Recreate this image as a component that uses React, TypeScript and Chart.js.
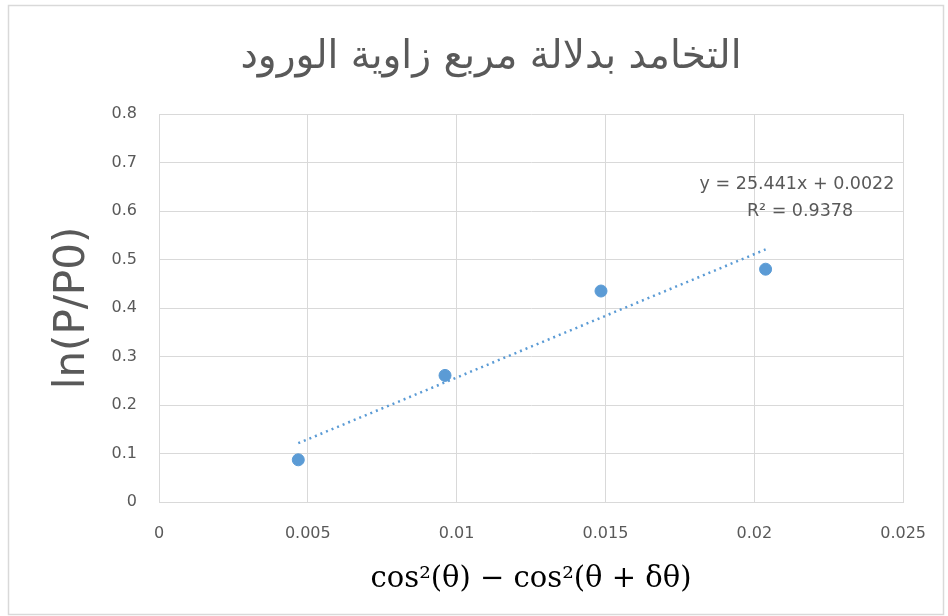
import React, { useEffect, useRef } from 'react';
import { Chart, registerables } from 'chart.js';

Chart.register(...registerables);

const chartTitle = 'التخامد بدلالة مربع زاوية الورود';
const xAxisTitle = 'cos²(θ) − cos²(θ + δθ)';
const yAxisTitle = 'ln(P/P0)';

const xValues = [0.00468, 0.00961, 0.01485, 0.02038];
const yValues = [0.087, 0.261, 0.435, 0.48];

const xTicks = [0, 0.005, 0.01, 0.015, 0.02, 0.025];
const xTickLabels = ['0', '0.005', '0.01', '0.015', '0.02', '0.025'];
const yTicks = [0, 0.1, 0.2, 0.3, 0.4, 0.5, 0.6, 0.7, 0.8];
const yTickLabels = ['0', '0.1', '0.2', '0.3', '0.4', '0.5', '0.6', '0.7', '0.8'];

const trendSlope = 25.441;
const trendIntercept = 0.0022;
const trendLabels = ['y = 25.441x + 0.0022', 'R² = 0.9378'];

const BLUE = '#5b9bd5';
const GRID = '#d9d9d9';
const TEXT = '#595959';

const decorPlugin = {
  id: 'decor',
  afterDraw(chart: any) {
    const ctx = chart.ctx;
    ctx.save();
    // outer chart border
    ctx.strokeStyle = GRID;
    ctx.lineWidth = 1.5;
    ctx.strokeRect(8.5, 5.5, 935, 609);
    // title
    ctx.fillStyle = TEXT;
    ctx.font = '39px "DejaVu Sans"';
    ctx.textAlign = 'center';
    ctx.textBaseline = 'middle';
    ctx.fillText(chartTitle, 491, 58);
    // trendline equation
    ctx.font = '17.5px "DejaVu Sans"';
    ctx.fillText(trendLabels[0], 797, 184);
    ctx.fillText(trendLabels[1], 800, 211);
    ctx.restore();
  },
};

export default function App() {
  const ref = useRef<HTMLCanvasElement | null>(null);
  useEffect(() => {
    if (!ref.current) return;
    const minX = Math.min(...xValues);
    const maxX = Math.max(...xValues);
    const chart = new Chart(ref.current, {
      type: 'scatter',
      data: {
        datasets: [
          {
            label: 'data',
            data: xValues.map((x, i) => ({ x, y: yValues[i] })),
            backgroundColor: BLUE,
            borderColor: BLUE,
            pointRadius: 6,
            pointHoverRadius: 6,
            order: 2,
          },
          {
            type: 'line',
            label: 'trend',
            data: [minX, maxX].map((x) => ({ x, y: trendSlope * x + trendIntercept })),
            borderColor: BLUE,
            borderWidth: 2.5,
            borderDash: [2, 4],
            pointRadius: 0,
            fill: false,
            order: 1,
          } as any,
        ],
      },
      options: {
        responsive: false,
        animation: false,
        events: [],
        layout: { padding: { left: 0, right: 44, top: 114, bottom: 0 } },
        plugins: {
          legend: { display: false },
          tooltip: { enabled: false },
          title: { display: false },
        },
        scales: {
          x: {
            type: 'linear',
            min: 0,
            max: 0.025,
            afterBuildTicks: (s: any) => {
              s.ticks = xTicks.map((v) => ({ value: v }));
            },
            afterFit: (s: any) => {
              s.height = 114;
            },
            grid: { color: GRID, lineWidth: 1, drawTicks: false },
            border: { color: GRID, width: 1 },
            ticks: {
              padding: 22,
              color: TEXT,
              font: { family: 'DejaVu Sans', size: 16 },
              maxRotation: 0,
              callback: (_v: any, i: number) => xTickLabels[i],
            },
            title: {
              display: true,
              text: xAxisTitle,
              color: '#000000',
              font: { family: 'DejaVu Serif', size: 29 },
              padding: { top: 0, bottom: 19 },
            },
          },
          y: {
            type: 'linear',
            min: 0,
            max: 0.8,
            afterBuildTicks: (s: any) => {
              s.ticks = yTicks.map((v) => ({ value: v }));
            },
            afterFit: (s: any) => {
              s.width = 159;
            },
            grid: { color: GRID, lineWidth: 1, drawTicks: false },
            border: { color: GRID, width: 1 },
            ticks: {
              padding: 22,
              color: TEXT,
              font: { family: 'DejaVu Sans', size: 16 },
              callback: (_v: any, i: number) => yTickLabels[i],
            },
            title: {
              display: true,
              text: yAxisTitle,
              color: TEXT,
              font: { family: 'DejaVu Sans', size: 42 },
              padding: { top: 48, bottom: 0 },
            },
          },
        },
      },
      plugins: [decorPlugin],
    });
    return () => chart.destroy();
  }, []);
  return (
    <div style={{ position: 'fixed', left: 0, top: 0, width: 948, height: 616, background: '#ffffff' }}>
      <canvas ref={ref} width={948} height={616} style={{ width: 948, height: 616, display: 'block' }} />
    </div>
  );
}
